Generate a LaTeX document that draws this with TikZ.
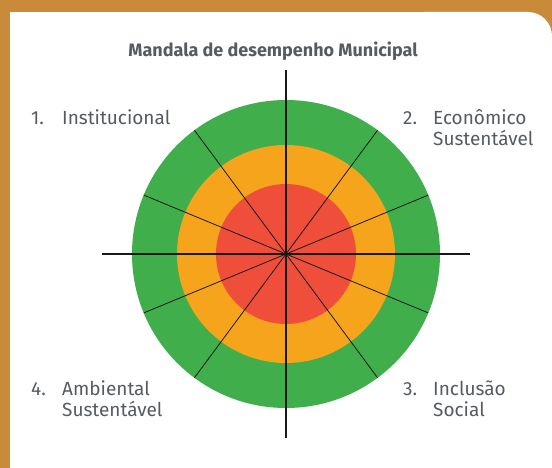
\documentclass[tikz,border=0pt]{standalone}
\usepackage{fontspec}
\setmainfont{Fira Sans}
\usetikzlibrary{calc}

\definecolor{frameorange}{HTML}{C98A3A}
\definecolor{ringgreen}{HTML}{40AE4B}
\definecolor{ringorange}{HTML}{F7A41D}
\definecolor{ringred}{HTML}{EE4E3A}
\definecolor{labelgrey}{HTML}{555B61}

\begin{document}
\begin{tikzpicture}[x=1pt,y=-1pt,
  axisline/.style={line width=1.7pt,black!90},
  spokeline/.style={line width=0.8pt,black!90},
  numlabel/.style={anchor=base west,inner sep=0pt,text=labelgrey,font=\fontsize{19}{21}\selectfont},
  textlabel/.style={anchor=base west,inner sep=0pt,text=labelgrey,align=left,font=\fontsize{19}{21}\selectfont}]
\useasboundingbox (0,0) rectangle (552,468);
\fill[frameorange] (0,0) rectangle (552,468);
\fill[white] (10,12) rectangle (500,530);
\fill[white,rounded corners=24pt] (400,12) rectangle (552,530);

\node[anchor=base,inner sep=0pt,text=labelgrey,font=\fontsize{18}{21}\selectfont\bfseries] (title) at (273,57) {Mandala de desempenho Municipal};

\coordinate (c) at (286,254);
\fill[ringgreen] (c) circle[radius=154];
\fill[ringorange] (c) circle[radius=109];
\fill[ringred] (c) circle[radius=70];

\foreach \a in {22.5,53.5,126.5,157.5,202.5,233.5,306.5,337.5}
  \draw[spokeline] (c) -- ++(\a:154);
\foreach \a in {0,90,180,270}
  \draw[axisline] (c) -- ++(\a:184);

\node[numlabel] (n1) at (31,125) {1.};
\node[textlabel] (t1) at (62,125) {Institucional};
\node[numlabel] (n2) at (403,125) {2.};
\node[textlabel] (t2) at (433,146) {Econômico\\Sustentável};
\node[numlabel] (n3) at (403,395) {3.};
\node[textlabel] (t3) at (433,416) {Inclusão\\Social};
\node[numlabel] (n4) at (31,395) {4.};
\node[textlabel] (t4) at (62,416) {Ambiental\\Sustentável};
\end{tikzpicture}
\end{document}
